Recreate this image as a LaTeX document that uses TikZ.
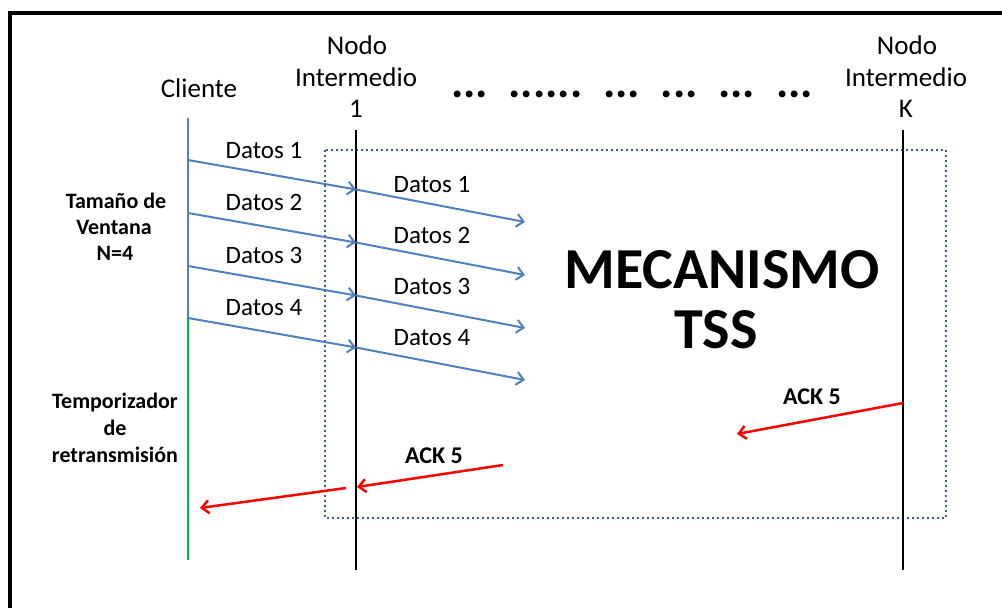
\documentclass[tikz,border=0pt]{standalone}
\usepackage{fontspec}
\setmainfont{Carlito}
\usetikzlibrary{arrows.meta}
\definecolor{msgblue}{HTML}{4F81BD}
\definecolor{ackred}{HTML}{FF0000}
\definecolor{timergreen}{HTML}{00B050}
\definecolor{boxblue}{HTML}{385D8A}
\begin{document}
\begin{tikzpicture}[x=1pt,y=-1pt,
  lbl/.style={inner sep=0pt, anchor=base, font=\fontsize{27}{32}\selectfont},
  datlbl/.style={inner sep=0pt, anchor=base, font=\fontsize{25}{30}\selectfont},
  sidelbl/.style={inner sep=0pt, anchor=base, font=\bfseries\fontsize{22}{26}\selectfont},
  acklbl/.style={inner sep=0pt, anchor=base, font=\bfseries\fontsize{24}{28}\selectfont},
  biglbl/.style={inner sep=0pt, anchor=base, font=\bfseries\fontsize{58}{64}\selectfont},
  lifeline/.style={line width=2.5pt},
  msg/.style={msgblue, line width=2pt, -{Straight Barb[length=7pt,width=13pt]}},
  ack/.style={ackred, line width=2.5pt, -{Straight Barb[length=7pt,width=13pt]}},
  ]
\useasboundingbox (0,0) rectangle (1002,608);

% outer frame (only the top and left edges fall inside the page)
\begin{scope}
  \clip (0,0) rectangle (1002,608);
  \draw[line width=3.5pt] (10,640) -- (10,13) -- (1040,13);
\end{scope}

% dotted region of the TSS mechanism
\draw[boxblue, line width=2pt, dash pattern=on 2pt off 3pt] (325,150) rectangle (946,518);

% lifelines
\coordinate (cTop) at (188,118);
\coordinate (cMid) at (188,318);
\coordinate (cBot) at (188,560);
\coordinate (aTop) at (356,130);
\coordinate (aBot) at (356,570);
\coordinate (kTop) at (903,130);
\coordinate (kBot) at (903,570);
\draw[msgblue, line width=2.2pt] (cTop) -- (cMid);
\draw[timergreen, lifeline] (cMid) -- (cBot);
\draw[lifeline] (aTop) -- (aBot);
\draw[lifeline] (kTop) -- (kBot);

% headers
\node[lbl] (cliente) at (199,97) {Cliente};
\node[lbl] (n1a) at (357,54) {Nodo};
\node[lbl] (n1b) at (356,86) {Intermedio};
\node[lbl] (n1c) at (356,117) {1};
\node[lbl] (nka) at (907,54) {Nodo};
\node[lbl] (nkb) at (906,86) {Intermedio};
\node[lbl] (nkc) at (906,117) {K};
\node[inner sep=0pt, anchor=base, font=\bfseries\fontsize{46}{50}\selectfont] (dots) at (632,97)
  {...~~......~~...~~...~~...~~...};

% data segments
\foreach \i/\y in {1/160, 2/213, 3/266, 4/318}{
  \coordinate (s\i) at (188,\y);
  \coordinate (m\i) at (356,\y+29.5);
  \coordinate (e\i) at (525,\y+62);
  \draw[msg] (s\i) -- (m\i);
  \draw[msg] (m\i) -- (e\i);
}
\node[datlbl] (d1l) at (264,158) {Datos 1};
\node[datlbl] (d2l) at (264,210.5) {Datos 2};
\node[datlbl] (d3l) at (264,263) {Datos 3};
\node[datlbl] (d4l) at (264,315.5) {Datos 4};
\node[datlbl] (d1r) at (432,192) {Datos 1};
\node[datlbl] (d2r) at (432,243) {Datos 2};
\node[datlbl] (d3r) at (432,294) {Datos 3};
\node[datlbl] (d4r) at (432,345) {Datos 4};

% side notes
\node[sidelbl] (w1) at (116,208) {Tamaño de};
\node[sidelbl] (w2) at (114,234) {Ventana};
\node[sidelbl] (w3) at (115,260) {N=4};
\node[sidelbl] (t1) at (115,408) {Temporizador};
\node[sidelbl] (t2) at (115,435) {de};
\node[sidelbl] (t3) at (115,462) {retransmisión};

% mechanism title
\node[biglbl] (mec) at (722,288) {MECANISMO};
\node[biglbl] (tss) at (716,348) {TSS};

% acknowledgements
\coordinate (ak1s) at (903,403);
\coordinate (ak1e) at (737,434);
\coordinate (ak2s) at (503,465);
\coordinate (ak2e) at (357,487);
\coordinate (ak3s) at (346,488);
\coordinate (ak3e) at (200,508);
\draw[ack] (ak1s) -- (ak1e);
\draw[ack] (ak2s) -- (ak2e);
\draw[ack] (ak3s) -- (ak3e);
\node[acklbl] (ackA) at (812,404) {ACK 5};
\node[acklbl] (ackB) at (434,463) {ACK 5};
\end{tikzpicture}
\end{document}
